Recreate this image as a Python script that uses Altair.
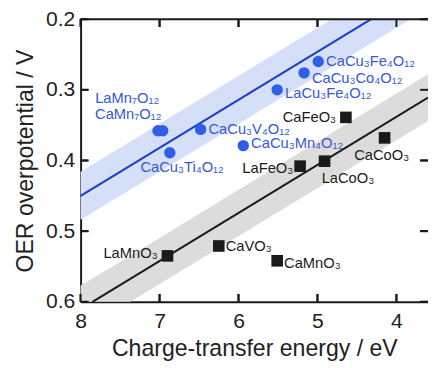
import altair as alt
import pandas as pd

# ---- data ----
blue_names = ["LaMn₇O₁₂", "CaMn₇O₁₂", "CaCu₃Ti₄O₁₂", "CaCu₃V₄O₁₂", "CaCu₃Mn₄O₁₂",
              "LaCu₃Fe₄O₁₂", "CaCu₃Co₄O₁₂", "CaCu₃Fe₄O₁₂"]
blue_E = [7.02, 6.96, 6.87, 6.48, 5.94, 5.51, 5.17, 4.99]
blue_V = [0.358, 0.358, 0.389, 0.356, 0.379, 0.300, 0.276, 0.260]

black_names = ["CaFeO₃", "CaCoO₃", "LaCoO₃", "LaFeO₃", "LaMnO₃", "CaVO₃", "CaMnO₃"]
black_E = [4.64, 4.15, 4.91, 5.22, 6.90, 6.25, 5.51]
black_V = [0.339, 0.368, 0.401, 0.408, 0.535, 0.521, 0.542]

# trend lines and bands (read where they meet the frame)
blue_line_E = [8.0, 4.32]
blue_line_V = [0.450, 0.200]
blue_band_E = [8.0, 4.82, 3.82, 3.6]
blue_band_lo = [0.416, 0.200, 0.132, 0.117]
blue_band_hi = [0.484, 0.268, 0.200, 0.185]
black_line_E = [7.85, 3.6]
black_line_V = [0.600, 0.311]
grey_band_E = [8.0, 7.37, 3.6]
grey_band_lo = [0.577, 0.535, 0.278]
grey_band_hi = [0.643, 0.600, 0.344]

x_ticks = [8, 7, 6, 5, 4]
y_ticks = [0.2, 0.3, 0.4, 0.5, 0.6]
x_min, x_max = 8.0, 3.6
y_top, y_bottom = 0.2, 0.6

# label styles: name -> (align, dx, dy)
label_style = {
    "LaMn₇O₁₂": ("left", -64, -33),
    "CaMn₇O₁₂": ("left", -69, -17),
    "CaCu₃Ti₄O₁₂": ("left", -30, 15),
    "CaCu₃V₄O₁₂": ("left", 8, 0),
    "CaCu₃Mn₄O₁₂": ("left", 8, -3),
    "LaCu₃Fe₄O₁₂": ("left", 8, 3),
    "CaCu₃Co₄O₁₂": ("left", 8, 5),
    "CaCu₃Fe₄O₁₂": ("left", 8, 0),
    "CaFeO₃": ("right", -10, 0),
    "CaCoO₃": ("center", -3, 18),
    "LaCoO₃": ("left", -3, 17),
    "LaFeO₃": ("right", -7, 2),
    "LaMnO₃": ("right", -10, -3),
    "CaVO₃": ("left", 7, 0),
    "CaMnO₃": ("left", 7, 2),
}

FONT = "Liberation Sans"
BLUE_PT = "#2f5fe6"
BLUE_LINE = "#1a3ccc"
BLUE_BAND = "#d6dff8"
BLUE_TXT = "#3458d8"
GREY_BAND = "#dcdcdc"
DARK = "#1a1a1a"
TXT = "#222222"
W, H, TL = 354, 288, 8
TL_E = TL * (x_min - x_max) / W
TL_V = TL * (y_bottom - y_top) / H

blue_band_df = pd.DataFrame({"bE": blue_band_E, "blo": blue_band_lo, "bhi": blue_band_hi})
grey_band_df = pd.DataFrame({"gE": grey_band_E, "glo": grey_band_lo, "ghi": grey_band_hi})
blue_line_df = pd.DataFrame({"ble": blue_line_E, "blv": blue_line_V})
black_line_df = pd.DataFrame({"kle": black_line_E, "klv": black_line_V})
blue_df = pd.DataFrame({"name": blue_names, "E": blue_E, "V": blue_V})
black_df = pd.DataFrame({"name": black_names, "E": black_E, "V": black_V})
xt_df = pd.DataFrame({"tickE": x_ticks})
yt_df = pd.DataFrame({"tickV": y_ticks})

seg_rows = []
for i, e in enumerate(x_ticks):
    seg_rows += [{"id": f"b{i}", "sE": e, "sV": y_bottom},
                 {"id": f"b{i}", "sE": e, "sV": y_bottom - TL_V},
                 {"id": f"t{i}", "sE": e, "sV": y_top},
                 {"id": f"t{i}", "sE": e, "sV": y_top + TL_V}]
for i, v in enumerate(y_ticks):
    seg_rows += [{"id": f"l{i}", "sE": x_min, "sV": v},
                 {"id": f"l{i}", "sE": x_min - TL_E, "sV": v},
                 {"id": f"r{i}", "sE": x_max, "sV": v},
                 {"id": f"r{i}", "sE": x_max + TL_E, "sV": v}]
seg_rows += [{"id": "top", "sE": x_min, "sV": y_top}, {"id": "top", "sE": x_max, "sV": y_top}]
seg_df = pd.DataFrame(seg_rows)

xs = alt.Scale(domain=[x_min, x_max], nice=False, zero=False, clamp=True)
ys = alt.Scale(domain=[y_top, y_bottom], reverse=True, nice=False, zero=False, clamp=True)

main_x = alt.Axis(values=x_ticks, format="d", ticks=False, domain=True, domainColor=DARK,
                  domainWidth=2, labelFontSize=21.5, labelFont=FONT, labelColor=TXT,
                  labelPadding=9, title="Charge-transfer energy / eV", titleFont=FONT,
                  titleFontSize=23.5, titleFontWeight="normal", titleColor=TXT,
                  titlePadding=5, grid=False, orient="bottom", labelFlush=False)
main_y = alt.Axis(values=y_ticks, format=".1f", ticks=False, domain=True, domainColor=DARK,
                  domainWidth=2, labelFontSize=21.5, labelFont=FONT, labelColor=TXT,
                  labelPadding=6, title="OER overpotential / V", titleFont=FONT,
                  titleFontSize=23.5, titleFontWeight="normal", titleColor=TXT,
                  titlePadding=8, grid=False, orient="left", labelFlush=False)

# pixel-offset tick rules, first (as in a layout that rendered them)
tb = alt.Chart(xt_df).mark_rule(color=DARK, strokeWidth=2).encode(
    x=alt.X("tickE:Q", scale=xs, axis=main_x), y=alt.value(H), y2=alt.value(H - TL))
tt = alt.Chart(xt_df).mark_rule(color=DARK, strokeWidth=2).encode(
    x=alt.X("tickE:Q", scale=xs), y=alt.value(0), y2=alt.value(TL))
tl = alt.Chart(yt_df).mark_rule(color=DARK, strokeWidth=2).encode(
    y=alt.Y("tickV:Q", scale=ys, axis=main_y), x=alt.value(0), x2=alt.value(TL))
tr = alt.Chart(yt_df).mark_rule(color=DARK, strokeWidth=2).encode(
    y=alt.Y("tickV:Q", scale=ys), x=alt.value(W), x2=alt.value(W - TL))

grey_band = alt.Chart(grey_band_df).mark_area(color=GREY_BAND).encode(
    x=alt.X("gE:Q", scale=xs),
    y=alt.Y("glo:Q", scale=ys),
    y2="ghi:Q",
)
blue_band = alt.Chart(blue_band_df).mark_area(color=BLUE_BAND).encode(
    x=alt.X("bE:Q", scale=xs),
    y=alt.Y("blo:Q", scale=ys),
    y2="bhi:Q",
)
black_line = alt.Chart(black_line_df).mark_line(color=DARK, strokeWidth=2).encode(
    x=alt.X("kle:Q", scale=xs),
    y=alt.Y("klv:Q", scale=ys),
)
blue_line = alt.Chart(blue_line_df).mark_line(color=BLUE_LINE, strokeWidth=2).encode(
    x=alt.X("ble:Q", scale=xs),
    y=alt.Y("blv:Q", scale=ys),
)

blue_pts = alt.Chart(blue_df).mark_point(shape="circle", filled=True, opacity=1,
                                         color=BLUE_PT, size=135).encode(
    x=alt.X("E:Q", scale=xs),
    y=alt.Y("V:Q", scale=ys),
)
black_pts = alt.Chart(black_df).mark_point(shape="square", filled=True, opacity=1,
                                           color=DARK, size=140).encode(
    x=alt.X("E:Q", scale=xs),
    y=alt.Y("V:Q", scale=ys),
)

labels = []
for names, es, vs, col in ((blue_names, blue_E, blue_V, BLUE_TXT),
                           (black_names, black_E, black_V, DARK)):
    for nm, e, v in zip(names, es, vs):
        al, dx, dy = label_style[nm]
        one = pd.DataFrame({"label": [nm], "lE": [e], "lV": [v]})
        labels.append(
            alt.Chart(one).mark_text(
                align=al, baseline="middle", dx=dx, dy=dy, font=FONT, fontSize=15,
                color=col).encode(
                x=alt.X("lE:Q", scale=xs),
                y=alt.Y("lV:Q", scale=ys),
                text="label:N",
            )
        )

# frame pieces as line segments in data units, drawn last
seg_lines = alt.Chart(seg_df).mark_line(color=DARK, strokeWidth=2).encode(
    x=alt.X("sE:Q", scale=xs),
    y=alt.Y("sV:Q", scale=ys),
    detail="id:N",
)

chart = alt.layer(tb, tt, tl, tr, grey_band, blue_band, black_line, blue_line,
                  blue_pts, black_pts, *labels, seg_lines).properties(
    width=W, height=H,
    padding={"left": 74, "top": 8, "right": 0, "bottom": 60},
    autosize="none",
)

chart.save("out.html", embed_options={"renderer": "svg", "actions": False})
